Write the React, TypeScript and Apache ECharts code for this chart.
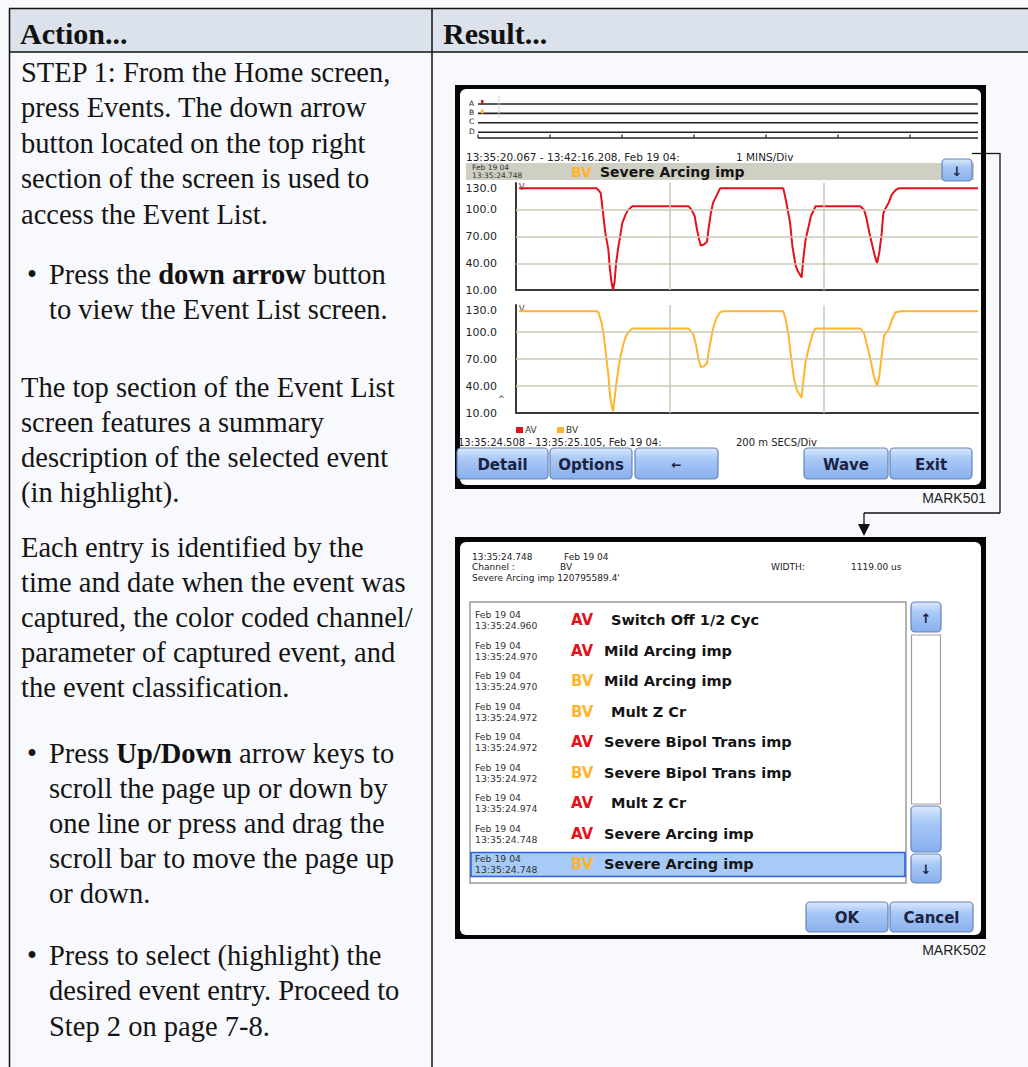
import React, { useEffect, useRef } from 'react';
import * as echarts from 'echarts';

// ---------- data ----------
// AV channel (red) : time in ms from 13:35:24.508, RMS volts
const avTime = [4, 105, 110, 112, 116, 120, 122, 124, 126, 128, 130, 133, 136, 138, 142, 145, 151, 224, 228, 232, 235, 238, 240, 244, 248, 250, 253, 256, 260, 265, 347, 349, 352, 356, 359, 363, 366, 371, 373, 376, 380, 383, 387, 389, 447, 452, 455, 459, 463, 466, 469, 472, 475, 477, 479, 484, 488, 493, 497, 600];
const avValue = [124, 124, 119, 104, 74, 55, 33, 19, 10, 19, 40, 59, 74, 85, 94, 99, 104, 104, 100, 93, 78, 66, 60, 61, 64, 78, 96, 108, 115, 124, 124, 117, 104, 85, 59, 38, 31, 24, 44, 66, 81, 93, 100, 104, 104, 100, 91, 74, 59, 48, 40, 53, 74, 96, 100, 108, 117, 122, 124, 124];
// BV channel (orange)
const bvTime = [4, 105, 107, 111, 114, 117, 120, 122, 124, 126, 128, 130, 133, 136, 139, 142, 146, 151, 224, 230, 234, 237, 240, 244, 248, 251, 256, 260, 265, 269, 347, 350, 354, 357, 361, 365, 371, 373, 376, 381, 386, 389, 447, 452, 456, 461, 465, 469, 472, 476, 478, 484, 488, 493, 500, 600];
const bvValue = [123, 123, 122, 111, 96, 74, 52, 30, 19, 12, 26, 41, 59, 74, 85, 94, 100, 104, 104, 98, 85, 70, 61, 62, 65, 82, 104, 115, 122, 123, 123, 115, 96, 74, 48, 35, 27, 44, 67, 85, 100, 104, 104, 99, 85, 67, 50, 40, 52, 82, 96, 103, 113, 122, 123, 123];
const gridTimes = [200, 400];
const gridVolts = [40, 70, 100];

const overviewChannels = ['A', 'B', 'C', 'D'];
const overviewTicks = [0, 1, 2, 3, 4, 5, 6];

const listDates = ['Feb 19 04', 'Feb 19 04', 'Feb 19 04', 'Feb 19 04', 'Feb 19 04', 'Feb 19 04', 'Feb 19 04', 'Feb 19 04', 'Feb 19 04'];
const listTimes = ['13:35:24.960', '13:35:24.970', '13:35:24.970', '13:35:24.972', '13:35:24.972', '13:35:24.972', '13:35:24.974', '13:35:24.748', '13:35:24.748'];
const listChannels = ['AV', 'AV', 'BV', 'BV', 'AV', 'BV', 'AV', 'AV', 'BV'];
const listEvents = [' Switch Off 1/2 Cyc', 'Mild Arcing imp', 'Mild Arcing imp', ' Mult Z Cr', 'Severe Bipol Trans imp', 'Severe Bipol Trans imp', ' Mult Z Cr', 'Severe Arcing imp', 'Severe Arcing imp'];
const selectedRow = 8;

const para1 = ['STEP 1: From the Home screen,', 'press Events. The down arrow', 'button located on the top right', 'section of the screen is used to', 'access the Event List.'];
const bullet1 = ['Press the {b|down arrow} button', 'to view the Event List screen.'];
const para2 = ['The top section of the Event List', 'screen features a summary', 'description of the selected event', '(in highlight).'];
const para3 = ['Each entry is identified by the', 'time and date when the event was', 'captured, the color coded channel/', 'parameter of captured event, and', 'the event classification.'];
const bullet2 = ['Press {b|Up/Down} arrow keys to', 'scroll the page up or down by', 'one line or press and drag the', 'scroll bar to move the page up', 'or down.'];
const bullet3 = ['Press to select (highlight) the', 'desired event entry. Proceed to', 'Step 2 on page 7-8.'];

// ---------- styles ----------
const SERIF = '"Liberation Serif", "Times New Roman", serif';
const SANS = '"DejaVu Sans", sans-serif';
const ARIAL = '"Liberation Sans", Arial, sans-serif';
const RED = '#e3111b';
const ORANGE = '#ffb42c';
const BODY_FONT = `28.5px ${SERIF}`;
const BOLD_FONT = `bold 28.5px ${SERIF}`;

function txt(x: number, y: number, text: string, font: string, fill = '#141414', align = 'left', rich?: any) {
  const style: any = { text, font, fill, textAlign: align, textVerticalAlign: 'middle', align, verticalAlign: 'middle' };
  if (rich) style.rich = rich;
  return { type: 'text', z: -1, silent: true, x, y, style };
}
function rect(x: number, y: number, w: number, h: number, fill: any, stroke?: string, lw = 1, r = 0) {
  const style: any = { fill };
  if (stroke) { style.stroke = stroke; style.lineWidth = lw; }
  return { type: 'rect', z: -1, silent: true, shape: { x, y, width: w, height: h, r }, style };
}
function line(x1: number, y1: number, x2: number, y2: number, stroke = '#111', lw = 1.5) {
  return { type: 'line', z: -1, silent: true, shape: { x1, y1, x2, y2 }, style: { stroke, lineWidth: lw } };
}
function btnGrad() {
  return new echarts.graphic.LinearGradient(0, 0, 0, 1, [
    { offset: 0, color: '#dbe9fd' },
    { offset: 0.35, color: '#a9c9f6' },
    { offset: 1, color: '#88afee' },
  ]);
}
function button(x1: number, x2: number, y1: number, y2: number, label: string, size = 15) {
  return [
    rect(x1, y1, x2 - x1, y2 - y1, btnGrad(), '#6483b8', 1.2, 4),
    txt((x1 + x2) / 2, (y1 + y2) / 2 + 1, label, `bold ${size}px ${SANS}`, '#1b2340', 'center'),
  ];
}

function buildGraphics() {
  const g: any[] = [];
  // ---- table ----
  g.push(rect(9, 8, 1019, 44, '#dbe2eb'));
  g.push(line(9, 8.5, 1028, 8.5));
  g.push(line(9, 52, 1028, 52));
  g.push(line(9.5, 8, 9.5, 1067));
  g.push(line(432, 8, 432, 1067));
  g.push(txt(20, 33, 'Action...', `bold 30px ${SERIF}`, '#111'));
  g.push(txt(443, 33, 'Result...', `bold 30px ${SERIF}`, '#111'));

  const rich = { b: { font: BOLD_FONT, fill: '#111' } };
  const para = (lines: string[], y0: number, step: number) =>
    lines.forEach((s, i) => g.push(txt(21, y0 + i * step, s, BODY_FONT, '#141414')));
  const bullet = (lines: string[], y0: number, step: number) => {
    g.push(txt(27, y0, '•', BODY_FONT, '#141414'));
    lines.forEach((s, i) => g.push(txt(49, y0 + i * step, s, BODY_FONT, '#141414', 'left', rich)));
  };
  para(para1, 72, 35.5);
  bullet(bullet1, 274, 35);
  para(para2, 387, 35);
  para(para3, 547, 35);
  bullet(bullet2, 753, 35);
  bullet(bullet3, 955, 35.5);

  // ---- screenshot 1 ----
  g.push(rect(455, 85, 531, 404, '#060606'));
  g.push(rect(460, 89, 521, 396, '#ffffff', undefined, 1, 6));
  overviewChannels.forEach((c, i) => {
    const y = 104 + i * 9.4;
    g.push(txt(469, y - 1, c, `7.5px ${SANS}`, '#222'));
    g.push(line(478, y, 978, y, '#222', 1.6));
  });
  g.push(line(499, 96, 499, 118, '#cfcfcf', 1));
  g.push(rect(481, 100, 2.5, 4, RED));
  g.push(rect(481, 109.5, 2.5, 4, ORANGE));
  g.push(line(478, 138, 978, 138, '#222', 1.5));
  overviewTicks.forEach((i) => g.push(line(478 + i * 72, 134.5, 478 + i * 72, 138, '#222', 1.2)));
  g.push(txt(466, 156.5, '13:35:20.067 - 13:42:16.208, Feb 19 04:', `10.5px ${SANS}`, '#222'));
  g.push(txt(736, 156.5, '1 MINS/Div', `10.5px ${SANS}`, '#222'));
  g.push(rect(466, 163, 508, 17, '#cfcfc3'));
  g.push(txt(472, 167.3, 'Feb 19 04', `7.5px ${SANS}`, '#333'));
  g.push(txt(472, 175.8, '13:35:24.748', `7.5px ${SANS}`, '#333'));
  g.push(txt(571, 171.5, 'BV', `bold 14px ${SANS}`, ORANGE));
  g.push(txt(600, 171.5, 'Severe Arcing imp', `bold 14px ${SANS}`, '#151515'));
  g.push(...button(942, 972, 159, 181, '↓', 13));
  g.push(txt(519, 187, 'V', `8px ${SANS}`, '#333'));
  g.push(txt(519, 309, 'V', `8px ${SANS}`, '#333'));
  g.push(txt(498, 399, '^', `8px ${SANS}`, '#333'));
  g.push(rect(516, 427, 7, 6, RED));
  g.push(txt(525, 430, 'AV', `9px ${SANS}`, '#333'));
  g.push(rect(557, 427, 7, 6, ORANGE));
  g.push(txt(566, 430, 'BV', `9px ${SANS}`, '#333'));
  g.push(txt(458, 442, '13:35:24.508 - 13:35:25.105, Feb 19 04:', `10px ${SANS}`, '#222'));
  g.push(txt(736, 442, '200 m SECS/Div', `10px ${SANS}`, '#222'));
  g.push(...button(457, 548, 448, 479, 'Detail'));
  g.push(...button(550, 632, 448, 479, 'Options'));
  g.push(...button(635, 718, 448, 479, '←', 12));
  g.push(...button(804, 888, 448, 479, 'Wave'));
  g.push(...button(890, 972, 448, 479, 'Exit'));
  g.push(txt(986, 497.5, 'MARK501', `14px ${ARIAL}`, '#222', 'right'));

  // ---- connector ----
  g.push(line(972, 153.5, 1000, 153.5, '#111', 1.3));
  g.push(line(1000, 153, 1000, 513, '#111', 1.3));
  g.push(line(1000, 513, 864, 513, '#111', 1.3));
  g.push(line(864, 513, 864, 525, '#111', 1.3));
  g.push({ type: 'polygon', z: -1, silent: true, shape: { points: [[858, 524], [870, 524], [864, 536]] }, style: { fill: '#111' } });

  // ---- screenshot 2 ----
  g.push(rect(455, 537, 531, 402, '#060606'));
  g.push(rect(460, 542, 521, 393, '#ffffff', undefined, 1, 6));
  const hf = `9px ${SANS}`;
  g.push(txt(472, 556.5, '13:35:24.748', hf, '#222'));
  g.push(txt(564, 556.5, 'Feb 19 04', hf, '#222'));
  g.push(txt(472, 567.2, 'Channel :', hf, '#222'));
  g.push(txt(560, 567.2, 'BV', hf, '#222'));
  g.push(txt(771, 567.2, 'WIDTH:', hf, '#222'));
  g.push(txt(851, 567.2, '1119.00 us', hf, '#222'));
  g.push(txt(472, 577.9, "Severe Arcing imp 120795589.4'", hf, '#222'));
  g.push(rect(470, 602, 436, 281, '#ffffff', '#9a9a9a', 1.5));
  listEvents.forEach((ev, i) => {
    const cy = 620 + i * 30.5;
    if (i === selectedRow) g.push(rect(471, cy - 11.5, 434, 24, '#a7cbf7', '#2f5fe0', 1.6));
    g.push(txt(475, cy - 5.5, listDates[i], `9.3px ${SANS}`, '#333'));
    g.push(txt(475, cy + 5.5, listTimes[i], `9.3px ${SANS}`, '#333'));
    g.push(txt(571, cy, listChannels[i], `bold 15px ${SANS}`, listChannels[i] === 'AV' ? RED : ORANGE));
    const indent = ev.startsWith(' ') ? 7 : 0;
    g.push(txt(604 + indent, cy, ev.trim(), `bold 14.5px ${SANS}`, '#151515'));
  });
  g.push(...button(911, 941, 602, 632, '↑', 13));
  g.push(rect(911.5, 635, 29, 169, '#ffffff', '#a0a0a0', 1.2));
  g.push(rect(911, 806, 30, 46, btnGrad(), '#6483b8', 1.2, 4));
  g.push(...button(911, 941, 854, 883, '↓', 13));
  g.push(...button(806, 888, 902, 932, 'OK'));
  g.push(...button(890, 973, 902, 932, 'Cancel'));
  g.push(txt(986, 950, 'MARK502', `14px ${ARIAL}`, '#222', 'right'));
  return g;
}

function buildOption(): any {
  const grids = [
    { left: 516, top: 183, width: 462, height: 107 },
    { left: 516, top: 305, width: 462, height: 108 },
  ];
  const axisColor = '#3a3a3a';
  const xAxis = grids.map((_, i) => ({
    type: 'value', gridIndex: i, min: 0, max: 600, interval: 200,
    axisLine: { show: true, onZero: false, lineStyle: { color: axisColor, width: 2 } },
    axisTick: { show: false }, axisLabel: { show: false }, splitLine: { show: false },
  }));
  const yAxis = grids.map((_, i) => ({
    type: 'value', gridIndex: i, min: 10, max: 130, interval: 30,
    axisLine: { show: true, onZero: false, lineStyle: { color: axisColor, width: 2 } },
    axisTick: { show: false }, splitLine: { show: false },
    axisLabel: {
      margin: 19, fontFamily: SANS, fontSize: 11, color: '#222',
      verticalAlignMaxLabel: 'top',
      formatter: (v: number) => (v >= 100 ? v.toFixed(1) : v.toFixed(2)),
    },
  }));
  const gridSeries = grids.map((_, i) => ({
    type: 'line', xAxisIndex: i, yAxisIndex: i, data: [], z: 1, silent: true,
    markLine: {
      silent: true, symbol: ['none', 'none'], label: { show: false },
      lineStyle: { color: '#cacab6', width: 1.5, type: 'solid' },
      data: [...gridTimes.map((t) => ({ xAxis: t })), ...gridVolts.map((v) => ({ yAxis: v }))],
    },
  }));
  return {
    animation: false,
    backgroundColor: '#f8f9fc',
    grid: grids,
    xAxis,
    yAxis,
    graphic: { elements: buildGraphics() },
    series: [
      ...gridSeries,
      {
        type: 'line', name: 'AV', xAxisIndex: 0, yAxisIndex: 0, z: 3,
        data: avTime.map((t, i) => [t, avValue[i]]),
        symbol: 'none', showSymbol: false, lineStyle: { color: RED, width: 2 }, itemStyle: { color: RED },
      },
      {
        type: 'line', name: 'BV', xAxisIndex: 1, yAxisIndex: 1, z: 3,
        data: bvTime.map((t, i) => [t, bvValue[i]]),
        symbol: 'none', showSymbol: false, lineStyle: { color: ORANGE, width: 2 }, itemStyle: { color: ORANGE },
      },
    ],
  };
}

export default function App() {
  const ref = useRef<HTMLDivElement>(null);
  useEffect(() => {
    const chart = echarts.init(ref.current!, null, { renderer: 'svg' });
    chart.setOption(buildOption());
    return () => chart.dispose();
  }, []);
  return <div ref={ref} style={{ position: 'absolute', left: 0, top: 0, width: 1028, height: 1067 }} />;
}
